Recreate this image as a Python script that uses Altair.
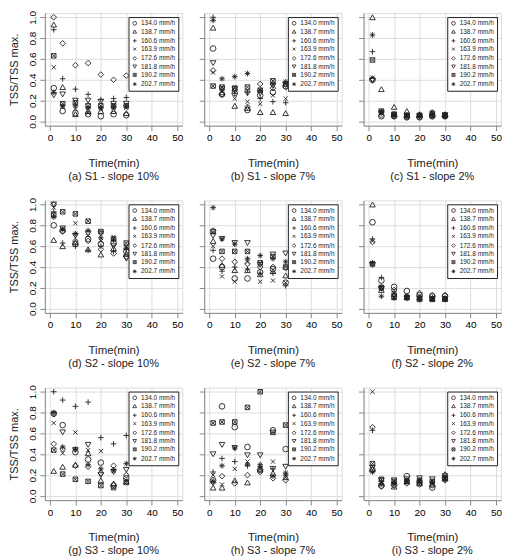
import altair as alt
import pandas as pd

times = [1.5, 5, 10, 15, 20, 25, 30]
series = ["134.0 mm/h", "138.7 mm/h", "160.6 mm/h", "163.9 mm/h",
          "172.6 mm/h", "181.8 mm/h", "190.2 mm/h", "202.7 mm/h"]
shapes = [
    "circle",
    "triangle-up",
    "M-1,0L1,0M0,-1L0,1",
    "M-0.75,-0.75L0.75,0.75M-0.75,0.75L0.75,-0.75",
    "diamond",
    "triangle-down",
    "M-0.8,-0.8L0.8,-0.8L0.8,0.8L-0.8,0.8ZM-0.8,-0.8L0.8,0.8M-0.8,0.8L0.8,-0.8",
    "M-1,0L1,0M0,-1L0,1M-0.7,-0.7L0.7,0.7M-0.7,0.7L0.7,-0.7",
]
x_ticks = [0, 10, 20, 30, 40, 50]
y_ticks = [0.0, 0.2, 0.4, 0.6, 0.8, 1.0]

# each list: one row per intensity (same order as `series`), one value per time
s1_slope10 = [
    [0.32, 0.10, 0.08, 0.07, 0.05, 0.07, 0.06],
    [0.93, 0.33, 0.07, 0.10, 0.10, 0.10, 0.08],
    [0.88, 0.41, 0.31, 0.26, 0.21, 0.22, 0.23],
    [0.52, 0.14, 0.12, 0.08, 0.12, 0.13, 0.13],
    [1.00, 0.75, 0.54, 0.56, 0.45, 0.40, 0.44],
    [0.25, 0.26, 0.20, 0.20, 0.19, 0.17, 0.17],
    [0.63, 0.17, 0.18, 0.15, 0.15, 0.15, 0.15],
    [0.28, 0.15, 0.15, 0.13, 0.13, 0.14, 0.15],
]
s1_slope7 = [
    [0.70, 0.26, 0.27, 0.11, 0.25, 0.28, 0.34],
    [0.90, 0.28, 0.15, 0.13, 0.09, 0.09, 0.08],
    [1.00, 0.30, 0.27, 0.28, 0.22, 0.19, 0.18],
    [0.47, 0.29, 0.22, 0.19, 0.17, 0.25, 0.22],
    [0.49, 0.26, 0.30, 0.14, 0.36, 0.32, 0.33],
    [0.56, 0.31, 0.31, 0.27, 0.27, 0.34, 0.35],
    [0.34, 0.33, 0.32, 0.33, 0.30, 0.39, 0.36],
    [0.97, 0.41, 0.43, 0.46, 0.30, 0.36, 0.38],
]
s1_slope2 = [
    [0.40, 0.05, 0.05, 0.04, 0.04, 0.05, 0.05],
    [1.00, 0.31, 0.14, 0.10, 0.07, 0.09, 0.07],
    [0.67, 0.09, 0.07, 0.06, 0.06, 0.06, 0.05],
    [0.42, 0.08, 0.06, 0.05, 0.05, 0.09, 0.06],
    [0.41, 0.06, 0.05, 0.04, 0.04, 0.05, 0.05],
    [0.39, 0.08, 0.06, 0.05, 0.05, 0.07, 0.06],
    [0.59, 0.10, 0.07, 0.06, 0.06, 0.06, 0.06],
    [0.83, 0.09, 0.06, 0.05, 0.05, 0.06, 0.06],
]
s2_slope10 = [
    [0.80, 0.75, 0.62, 0.67, 0.62, 0.63, 0.55],
    [0.66, 0.60, 0.64, 0.57, 0.52, 0.58, 0.53],
    [0.93, 0.63, 0.60, 0.56, 0.60, 0.55, 0.57],
    [0.97, 0.76, 0.82, 0.70, 0.65, 0.69, 0.60],
    [1.00, 0.74, 0.65, 0.65, 0.57, 0.53, 0.50],
    [1.00, 0.77, 0.70, 0.72, 0.72, 0.60, 0.48],
    [0.90, 0.93, 0.91, 0.84, 0.74, 0.67, 0.63],
    [0.88, 0.76, 0.72, 0.75, 0.68, 0.66, 0.58],
]
s2_slope7 = [
    [0.48, 0.40, 0.29, 0.29, 0.35, 0.38, 0.25],
    [0.65, 0.42, 0.37, 0.37, 0.33, 0.36, 0.32],
    [0.56, 0.36, 0.40, 0.38, 0.34, 0.34, 0.22],
    [0.60, 0.31, 0.26, 0.45, 0.26, 0.27, 0.25],
    [0.75, 0.48, 0.45, 0.43, 0.40, 0.40, 0.39],
    [0.70, 0.67, 0.63, 0.63, 0.42, 0.52, 0.53],
    [0.74, 0.55, 0.55, 0.55, 0.44, 0.50, 0.40],
    [0.97, 0.67, 0.62, 0.48, 0.51, 0.48, 0.45],
]
s2_slope2 = [
    [0.83, 0.27, 0.21, 0.17, 0.13, 0.12, 0.12],
    [1.00, 0.18, 0.14, 0.11, 0.11, 0.10, 0.10],
    [0.67, 0.30, 0.16, 0.12, 0.11, 0.11, 0.10],
    [0.65, 0.21, 0.15, 0.11, 0.10, 0.10, 0.10],
    [0.64, 0.21, 0.18, 0.12, 0.15, 0.13, 0.13],
    [0.42, 0.19, 0.12, 0.10, 0.10, 0.09, 0.09],
    [0.43, 0.20, 0.11, 0.11, 0.09, 0.09, 0.09],
    [0.44, 0.12, 0.10, 0.10, 0.09, 0.09, 0.09],
]
s3_slope10 = [
    [0.79, 0.68, 0.42, 0.35, 0.32, 0.10, 0.17],
    [0.24, 0.28, 0.30, 0.41, 0.15, 0.12, 0.14],
    [1.00, 0.92, 0.86, 0.90, 0.56, 0.50, 0.58],
    [0.70, 0.41, 0.61, 0.44, 0.43, 0.24, 0.15],
    [0.50, 0.45, 0.29, 0.28, 0.22, 0.29, 0.20],
    [0.78, 0.61, 0.44, 0.49, 0.20, 0.23, 0.25],
    [0.44, 0.21, 0.16, 0.14, 0.10, 0.08, 0.13],
    [0.80, 0.47, 0.45, 0.30, 0.26, 0.25, 0.31],
]
s3_slope7 = [
    [0.15, 0.86, 0.66, 0.47, 0.25, 0.63, 0.45],
    [0.08, 0.08, 0.15, 0.13, 0.26, 0.22, 0.18],
    [0.23, 0.36, 0.33, 0.29, 0.28, 0.26, 0.22],
    [0.20, 0.11, 0.26, 0.33, 0.27, 0.33, 0.22],
    [0.13, 0.19, 0.12, 0.20, 0.23, 0.17, 0.15],
    [0.40, 0.49, 0.46, 0.39, 0.39, 0.26, 0.28],
    [0.70, 0.71, 0.71, 0.85, 1.00, 0.61, 0.68],
    [0.14, 0.29, 0.46, 0.30, 0.30, 0.19, 0.20],
]
s3_slope2 = [
    [0.25, 0.10, 0.11, 0.19, 0.13, 0.08, 0.17],
    [0.26, 0.12, 0.09, 0.14, 0.12, 0.11, 0.21],
    [0.63, 0.14, 0.13, 0.15, 0.15, 0.13, 0.18],
    [1.00, 0.13, 0.12, 0.13, 0.14, 0.12, 0.16],
    [0.66, 0.09, 0.10, 0.12, 0.11, 0.10, 0.15],
    [0.27, 0.15, 0.15, 0.16, 0.17, 0.16, 0.19],
    [0.31, 0.16, 0.14, 0.14, 0.15, 0.14, 0.17],
    [0.23, 0.12, 0.12, 0.14, 0.13, 0.13, 0.16],
]

panels = [
    [(s1_slope10, "(a) S1 - slope 10%"), (s1_slope7, "(b) S1 - slope 7%"), (s1_slope2, "(c) S1 - slope 2%")],
    [(s2_slope10, "(d) S2 - slope 10%"), (s2_slope7, "(e) S2 - slope 7%"), (s2_slope2, "(f) S2 - slope 2%")],
    [(s3_slope10, "(g) S3 - slope 10%"), (s3_slope7, "(h) S3 - slope 7%"), (s3_slope2, "(i) S3 - slope 2%")],
]

FONT = "Liberation Sans"
INK = "#222222"


def make_panel(values, caption, first_col):
    rows = []
    for s, vals in zip(series, values):
        for t, v in zip(times, vals):
            rows.append({"time": t, "ratio": v, "intensity": s})
    df = pd.DataFrame(rows)
    if first_col:
        y_axis = alt.Axis(values=y_ticks, format=".1f", title="TSS/TSS max.",
                          labelAngle=270, labelAlign="center", labelBaseline="bottom",
                          labelPadding=2, titlePadding=8, titleFontSize=11,
                          titleFontWeight="normal", titleColor=INK)
    else:
        y_axis = alt.Axis(values=y_ticks, labels=False, title=None)
    return alt.Chart(df).mark_point(
        filled=False, color=INK, strokeWidth=0.9, size=32, opacity=1
    ).encode(
        x=alt.X("time:Q", scale=alt.Scale(domain=[-2, 52], nice=False, zero=False),
                axis=alt.Axis(values=x_ticks, title="Time(min)", titleFontSize=11.5,
                              titleFontWeight="normal", titlePadding=15, titleColor=INK)),
        y=alt.Y("ratio:Q", scale=alt.Scale(domain=[-0.04, 1.04], nice=False, zero=False),
                axis=y_axis),
        shape=alt.Shape("intensity:N", scale=alt.Scale(domain=series, range=shapes),
                        legend=alt.Legend(title=None, orient="top-right", offset=4,
                                          strokeColor=INK, fillColor="white", padding=3,
                                          labelFontSize=6.5, labelFont=FONT, labelColor=INK,
                                          symbolSize=14, symbolStrokeWidth=0.8,
                                          symbolStrokeColor=INK, rowPadding=1.3,
                                          labelOffset=3)),
    ).properties(
        width=138, height=113,
        title=alt.TitleParams(caption, orient="bottom", fontSize=11, fontWeight="normal",
                              font=FONT, color=INK, offset=2),
    )


row_charts = []
for r in panels:
    row = alt.hconcat(*[make_panel(v, c, i == 0) for i, (v, c) in enumerate(r)], spacing=15)
    row = row.resolve_scale(shape="independent").resolve_legend(shape="independent")
    row_charts.append(row)

chart = alt.vconcat(*row_charts, spacing=14).resolve_scale(
    shape="independent").resolve_legend(shape="independent").configure_view(
    stroke=INK, strokeWidth=1).configure_axis(
    grid=False, domain=False, tickColor=INK, tickSize=5, labelFont=FONT, titleFont=FONT,
    titleFontWeight="normal", labelFontSize=10.5, labelColor=INK, labelPadding=3).configure(
    background="white", padding=0)

chart.save("out.html", embed_options={"renderer": "svg", "actions": False})
